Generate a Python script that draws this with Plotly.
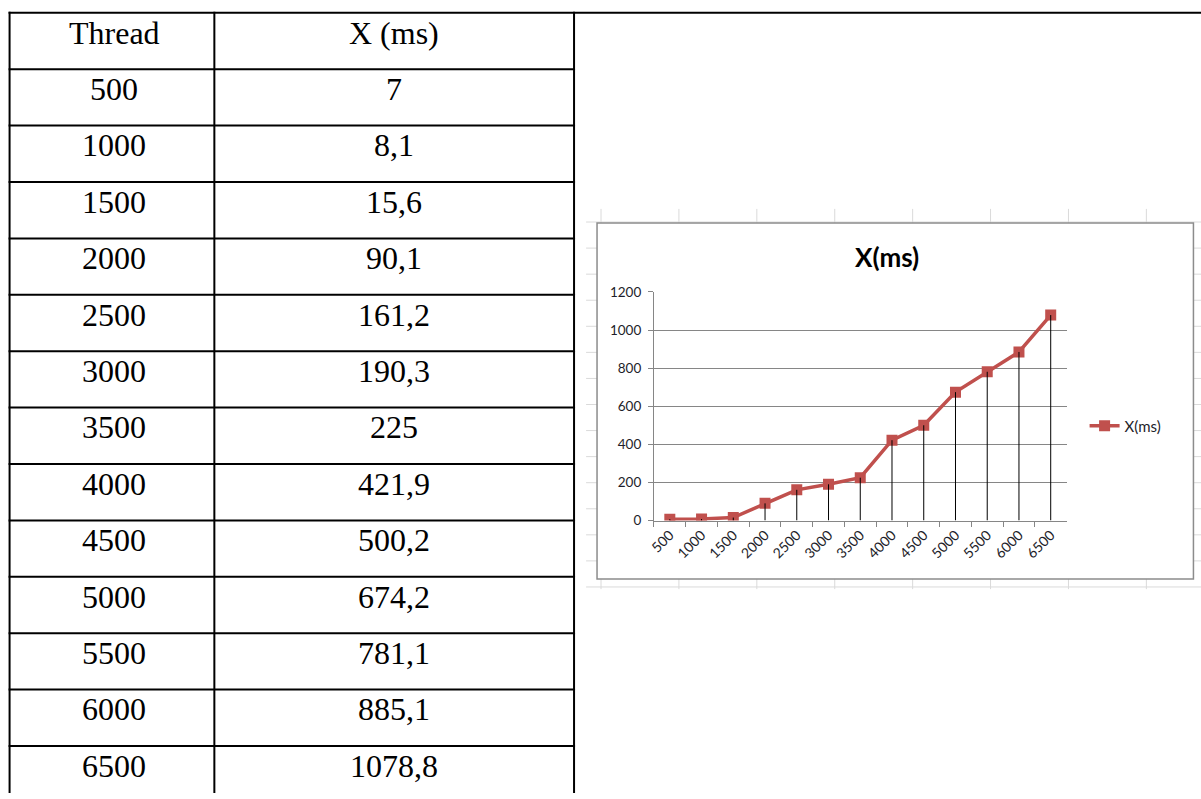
import plotly.graph_objects as go

# ---- data ----------------------------------------------------------------
threads = [500, 1000, 1500, 2000, 2500, 3000, 3500, 4000, 4500, 5000, 5500, 6000, 6500]
x_ms = [7, 8.1, 15.6, 90.1, 161.2, 190.3, 225, 421.9, 500.2, 674.2, 781.1, 885.1, 1078.8]
table_header = ["Thread", "X (ms)"]
chart_title = "X(ms)"
series_name = "X(ms)"
y_ticks = [0, 200, 400, 600, 800, 1000, 1200]

# ---- page geometry (pixels) ----------------------------------------------
W, H = 1201, 799


def fx(x):
    return x / W


def fy(y):
    return 1 - y / H


TABLE_LEFT, COL_SPLIT, COL_RIGHT = 3.6, 209.4, 570.9
TABLE_TOP, ROW_H = 4.9, 57.55
N_ROWS = len(threads) + 1

FRAME = (594, 219.4, 1193.4, 582.7)    # embedded chart frame
SHEET = (583, 205, 1201, 593)          # worksheet area around it
SHEET_COL_X0, SHEET_COL_W = 598, 78.3
SHEET_ROW_Y0, SHEET_ROW_H = 218.4, 26.6

PLOT_X = (651.2, 1065.9)
PLOT_Y = (289.8, 523.0)

RED = "#C0504D"
AXIS_GREY = "#868686"
TXT = "#1e1e2a"

shapes = []


def hline(y, x0, x1, color, width):
    shapes.append(dict(type="line", xref="paper", yref="paper", layer="below",
                       x0=fx(x0), x1=fx(x1), y0=fy(y), y1=fy(y),
                       line=dict(color=color, width=width)))


def vline(x, y0, y1, color, width):
    shapes.append(dict(type="line", xref="paper", yref="paper", layer="below",
                       x0=fx(x), x1=fx(x), y0=fy(y0), y1=fy(y1),
                       line=dict(color=color, width=width)))


# worksheet cell grid peeking around the chart object
SHEET_GRID = "#dadada"
x = SHEET_COL_X0
while x < SHEET[2]:
    vline(x, SHEET[1], SHEET[3], SHEET_GRID, 1)
    x += SHEET_COL_W
y = SHEET_ROW_Y0
while y < SHEET[3]:
    hline(y, SHEET[0], SHEET[2], SHEET_GRID, 1)
    y += SHEET_ROW_H

# chart object frame
shapes.append(dict(type="rect", xref="paper", yref="paper", layer="below",
                   x0=fx(FRAME[0]), x1=fx(FRAME[2]), y0=fy(FRAME[3]), y1=fy(FRAME[1]),
                   fillcolor="white", line=dict(color="#8c8c8c", width=1.5)))

# document table rules
hline(TABLE_TOP, TABLE_LEFT - 1, W, "black", 2)
for k in range(1, N_ROWS + 1):
    hline(TABLE_TOP + k * ROW_H, TABLE_LEFT - 1, COL_RIGHT + 1, "black", 2)
for xv in (TABLE_LEFT, COL_SPLIT, COL_RIGHT):
    vline(xv, TABLE_TOP - 1, H + 2, "black", 2)

# table text
annotations = []
col_centers = [(TABLE_LEFT + COL_SPLIT) / 2 + 2.5, (COL_SPLIT + COL_RIGHT) / 2]
cell_font = dict(family="Liberation Serif", size=32, color="black")


def fmt(v):
    return f"{v:g}".replace(".", ",")


rows = [table_header] + [[str(t), fmt(v)] for t, v in zip(threads, x_ms)]
for r, row in enumerate(rows):
    yc = TABLE_TOP + (r + 0.5) * ROW_H - 8.5
    for c, txt in enumerate(row):
        annotations.append(dict(text=txt, x=fx(col_centers[c]), y=fy(yc),
                                xref="paper", yref="paper", showarrow=False,
                                xanchor="center", yanchor="middle", font=cell_font))

# chart title
annotations.append(dict(text=f"<b>{chart_title}</b>", x=fx(885), y=fy(254),
                        xref="paper", yref="paper", showarrow=False,
                        xanchor="center", yanchor="middle",
                        font=dict(family="Lato", size=26, color="black")))

# ---- traces ----------------------------------------------------------------
cats = [str(t) for t in threads]
fig = go.Figure()
fig.add_trace(go.Scatter(
    x=cats, y=x_ms, mode="lines+markers", name=series_name,
    line=dict(color=RED, width=3.5),
    marker=dict(symbol="square", size=11, color=RED),
    hoverinfo="x+y"))
# drop lines from each point down to the category axis
fig.add_trace(go.Scatter(
    x=cats, y=x_ms, mode="markers", showlegend=False, hoverinfo="skip",
    marker=dict(size=2, opacity=0),
    error_y=dict(type="data", symmetric=False, array=[0] * len(x_ms),
                 arrayminus=x_ms, width=0, color="black", thickness=1)))

fig.update_layout(
    width=W, height=H,
    margin=dict(l=0, r=0, t=0, b=0),
    paper_bgcolor="white", plot_bgcolor="rgba(0,0,0,0)",
    shapes=shapes, annotations=annotations,
    xaxis=dict(type="category", domain=[fx(PLOT_X[0]), fx(PLOT_X[1])],
               range=[-0.5, len(cats) - 0.5], tickson="boundaries",
               ticks="outside", ticklen=5, tickcolor=AXIS_GREY, tickwidth=1,
               showline=True, linecolor=AXIS_GREY, linewidth=1,
               showgrid=False, zeroline=False, tickangle=-45,
               tickfont=dict(family="Lato", size=14, color=TXT)),
    yaxis=dict(domain=[fy(PLOT_Y[1]), fy(PLOT_Y[0])], range=[0, 1200],
               tickmode="array", tickvals=y_ticks,
               showgrid=True, gridcolor=AXIS_GREY, gridwidth=1,
               showline=True, linecolor=AXIS_GREY, linewidth=1,
               ticks="outside", ticklen=5, tickcolor=AXIS_GREY, tickwidth=1,
               zeroline=False, ticklabelstandoff=4,
               tickfont=dict(family="Lato", size=13.5, color=TXT)),
    legend=dict(x=fx(1084), y=fy(426.5), xanchor="left", yanchor="middle",
                font=dict(family="Lato", size=15, color=TXT),
                bgcolor="rgba(0,0,0,0)", itemwidth=30, borderwidth=0),
    showlegend=True,
)

fig.write_html("out.html")
